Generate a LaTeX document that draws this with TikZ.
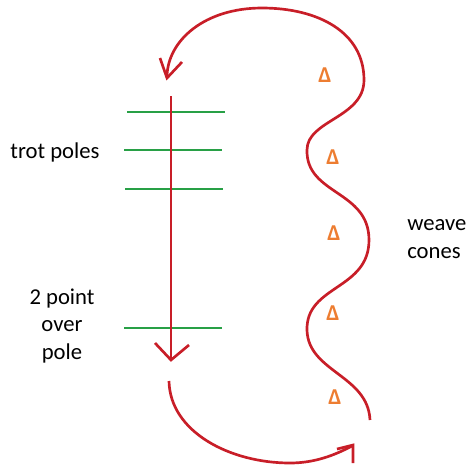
\documentclass[tikz,border=0pt]{standalone}
\usepackage{fontspec}
\setmainfont{Carlito}
\definecolor{pathred}{RGB}{200,30,40}
\definecolor{polegreen}{RGB}{40,160,70}
\definecolor{coneorange}{RGB}{237,125,49}
\tikzset{every picture/.style={line width=2pt}}

\begin{document}
\begin{tikzpicture}[x=0.75pt,y=0.75pt,yscale=-1,xscale=1]
\useasboundingbox (0,0) rectangle (474,476);

%Straight Lines [id:trotpole1] 
\draw [color=polegreen]    (127,112) -- (225,112) ;
%Straight Lines [id:trotpole2] 
\draw [color=polegreen]    (124,150) -- (222,150) ;
%Straight Lines [id:trotpole3] 
\draw [color=polegreen]    (125,189) -- (223,189) ;
%Straight Lines [id:overpole] 
\draw [color=polegreen]    (124,328) -- (222,328) ;

%Straight Lines [id:centreline] 
\draw [color=pathred]    (171,96) -- (171,359) ;
\draw [shift={(171,360)}, color=pathred, line join=miter]    (-16,-17) -- (0,0) -- (18,-15) ;

%Curve Lines [id:weaveline] 
\draw [color=pathred]    (370,420) .. controls (368,375) and (308,372) .. (307,330) .. controls (306,285) and (369,290) .. (369,240) .. controls (369,190) and (306,195) .. (307,150) .. controls (307,120) and (364,118) .. (364,80) .. controls (364,32) and (318,8) .. (262,8) .. controls (205,8) and (168,40) .. (167,76) ;
\draw [shift={(167,78)}, color=pathred, line join=miter]    (-7,-20) -- (0,0) -- (15,-16) ;

%Curve Lines [id:turnline] 
\draw [color=pathred]    (169,381) .. controls (170,432) and (230,463) .. (290,463) .. controls (315,463) and (335,455) .. (352,446) ;
\draw [shift={(353,445)}, color=pathred, line join=miter]    (-16,4) -- (0,0) -- (0,18) ;

% Text Node
\node (trotlabel) at (55,152) [inner sep=0.75pt, font=\fontsize{17}{20}\selectfont] {trot poles};
% Text Node
\node (pointlabel) at (62,326) [inner sep=0.75pt, align=center, font=\fontsize{17}{20.5}\selectfont] {2 point\\over\\pole};
% Text Node
\node (weavelabel) at (405,239) [anchor=west, inner sep=0.75pt, align=left, font=\fontsize{17}{20.5}\selectfont] {weave\\cones};

% Cone Nodes
\node (cone1) at (325,75) [inner sep=0pt, text=coneorange, font=\bfseries\fontsize{17}{20}\selectfont] {Δ};
\node (cone2) at (333,157) [inner sep=0pt, text=coneorange, font=\bfseries\fontsize{17}{20}\selectfont] {Δ};
\node (cone3) at (334,233) [inner sep=0pt, text=coneorange, font=\bfseries\fontsize{17}{20}\selectfont] {Δ};
\node (cone4) at (333,313) [inner sep=0pt, text=coneorange, font=\bfseries\fontsize{17}{20}\selectfont] {Δ};
\node (cone5) at (335,397) [inner sep=0pt, text=coneorange, font=\bfseries\fontsize{17}{20}\selectfont] {Δ};

\end{tikzpicture}
\end{document}
